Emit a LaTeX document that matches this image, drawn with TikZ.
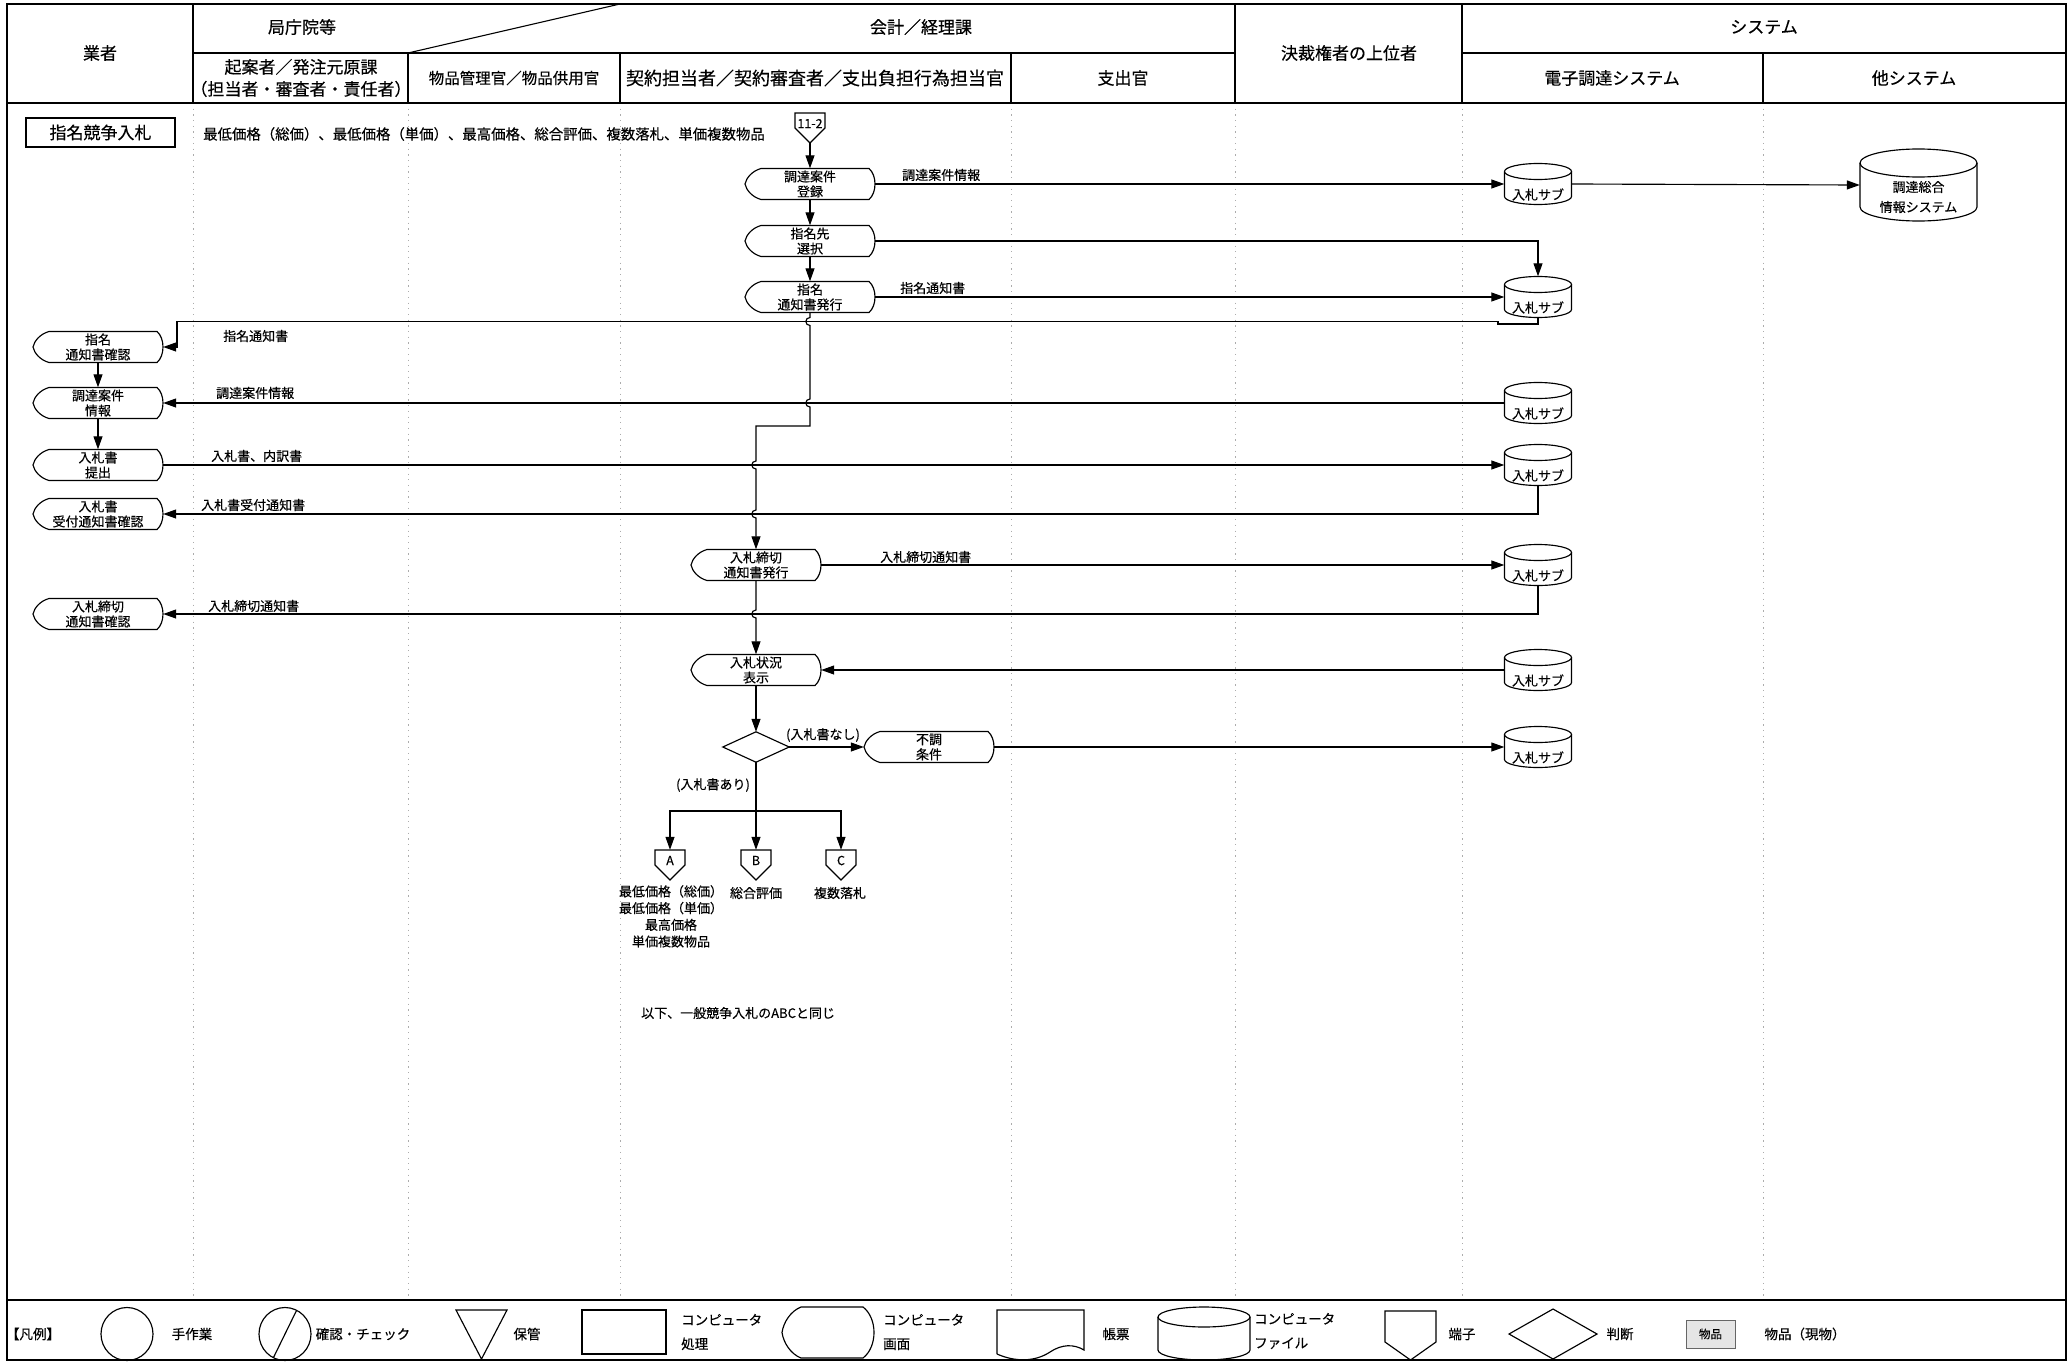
\documentclass[tikz,border=0pt]{standalone}
\usepackage{fontspec}
\setmainfont{Noto Sans CJK JP}[FakeBold=0.35]
\usetikzlibrary{arrows.meta}
\newcommand\fs[2]{\fontsize{#1}{#2}\selectfont}
% hop of a vertical line over a horizontal one
\newcommand\hop[2]{-- (#1,#2-4) .. controls (#1-5.5,#2-4) and (#1-5.5,#2+4) .. (#1,#2+4)}
% computer screen outline: cx cy w h leftdepth rightdepth
\newcommand\scrshape[6]{%
 \pgfmathsetmacro\sxl{#1-#3/2}\pgfmathsetmacro\sxr{#1+#3/2}%
 \pgfmathsetmacro\syt{#2-#4/2}\pgfmathsetmacro\syb{#2+#4/2}%
 \draw[shp] (\sxl+#5,\syt) -- (\sxr-#6,\syt) .. controls (\sxr+#6/3,\syt+#4*0.22) and (\sxr+#6/3,\syb-#4*0.22) .. (\sxr-#6,\syb) -- (\sxl+#5,\syb) .. controls (\sxl+#5*0.45,\syb-#4*0.08) and (\sxl+#5*0.08,#2+#4*0.2) .. (\sxl,#2) .. controls (\sxl+#5*0.08,#2-#4*0.2) and (\sxl+#5*0.45,\syt+#4*0.08) .. cycle;}
% cylinder outline: cx cy w h ry
\newcommand\cylshape[5]{%
 \pgfmathsetmacro\cxl{#1-#3/2}\pgfmathsetmacro\cxr{#1+#3/2}\pgfmathsetmacro\crx{#3/2}%
 \pgfmathsetmacro\cyt{#2-#4/2+#5}\pgfmathsetmacro\cyb{#2+#4/2-#5}%
 \draw[shp] (#1,\cyt) ellipse [x radius=\crx*1pt, y radius=#5*1pt];
 \draw[shp] (\cxl,\cyt) -- (\cxl,\cyb) .. controls (\cxl,\cyb+0.5523*#5) and (#1-0.5523*\crx,\cyb+#5) .. (#1,\cyb+#5) .. controls (#1+0.5523*\crx,\cyb+#5) and (\cxr,\cyb+0.5523*#5) .. (\cxr,\cyb) -- (\cxr,\cyt);}
% terminal outline: cx yt w side total
\newcommand\termshape[5]{%
 \draw[shp] (#1-#3/2,#2) -- (#1+#3/2,#2) -- (#1+#3/2,#2+#4) -- (#1,#2+#5) -- (#1-#3/2,#2+#4) -- cycle;}
\newcommand\scr[4]{\node[scrn] (#1) at (#2,#3) {#4};\scrshape{#2}{#3}{130}{31}{16}{6}}
\newcommand\cyl[3]{\node[cyln] (#1) at (#2,#3) {};\cylshape{#2}{#3}{67}{41}{8}\node[font=\fs{13}{15},inner sep=0pt] (#1t) at (#2,#3+10.5) {入札サブ};}
\newcommand\term[4]{\node[termn] (#1) at (#2,#3+15) {};\termshape{#2}{#3}{30}{15}{30}\node[font=\fs{12.5}{14},inner sep=0pt] (#1t) at (#2,#3+10.5) {#4};}
\begin{document}
\begin{tikzpicture}[x=1pt,y=-1pt,
 frm/.style={line width=1.5pt},
 lane/.style={draw=gray!65,line width=0.9pt,dash pattern=on 1.2pt off 4.5pt},
 shp/.style={line width=1.15pt},
 ln/.style={line width=1.15pt},
 arr/.style={line width=1.15pt,-{Triangle[length=13pt,width=9pt]}},
 hd/.style={font=\fs{17}{22},align=center,inner sep=0pt},
 lbl/.style={font=\fs{13}{15},anchor=west,inner sep=0pt},
 txt/.style={font=\fs{13}{16.7},align=center,inner sep=0pt},
 scrn/.style={minimum width=130pt,minimum height=31pt,inner sep=0pt,font=\fs{13}{15},align=center},
 cyln/.style={minimum width=67pt,minimum height=41pt,inner sep=0pt},
 termn/.style={minimum width=30pt,minimum height=30pt,inner sep=0pt},
 lgt/.style={font=\fs{13.5}{24},align=left,inner sep=0pt},
]
\useasboundingbox (0,0) rectangle (2069,1362);
% swimlanes
\foreach \x in {193,408,620,1011,1235,1462,1763} \draw[lane] (\x,103) -- (\x,1300);
% frame and header
\draw[frm] (7,4) rectangle (2066,1360);
\draw[frm] (7,103) -- (2066,103);
\draw[frm] (7,1300) -- (2066,1300);
\draw[frm] (193,53) -- (1235,53);
\draw[frm] (1462,53) -- (2066,53);
\draw[frm] (193,4) -- (193,103);
\draw[frm] (408,53) -- (408,103);
\draw[frm] (620,53) -- (620,103);
\draw[frm] (1011,53) -- (1011,103);
\draw[frm] (1235,4) -- (1235,103);
\draw[frm] (1462,4) -- (1462,103);
\draw[frm] (1763,53) -- (1763,103);
\draw[line width=1.1pt] (408,53) -- (620,4);
\node[hd] (h1) at (100,53) {業者};
\node[hd] (h2) at (302,27) {局庁院等};
\node[hd] (h3) at (921,27) {会計／経理課};
\node[hd] (h4) at (301,78) {起案者／発注元原課\\（担当者・審査者・責任者）};
\node[hd,font=\fs{15.5}{20}] (h5) at (514,78) {物品管理官／物品供用官};
\node[hd,font=\fs{18}{22}] (h6) at (815,78) {契約担当者／契約審査者／支出負担行為担当官};
\node[hd] (h7) at (1123,78) {支出官};
\node[hd] (h8) at (1349,53) {決裁権者の上位者};
\node[hd] (h9) at (1764,27) {システム};
\node[hd] (h10) at (1612,78) {電子調達システム};
\node[hd] (h11) at (1914,78) {他システム};
% title box and scope text
\node[draw,line width=1.1pt,minimum width=149pt,minimum height=29pt,inner sep=0pt,font=\fs{17}{20}] (title) at (100.5,132.5) {指名競争入札};
\node[lbl,font=\fs{14.4}{16}] (scope) at (203,134) {最低価格（総価）、最低価格（単価）、最高価格、総合評価、複数落札、単価複数物品};
% flow nodes
\term{t112}{810}{113}{11-2}
\scr{reg}{810}{184}{調達案件\\登録}
\scr{sel}{810}{241}{指名先\\選択}
\scr{iss}{810}{297}{指名\\通知書発行}
\scr{chk1}{98}{347}{指名\\通知書確認}
\scr{info}{98}{403}{調達案件\\情報}
\scr{bid}{98}{465}{入札書\\提出}
\scr{rcpt}{98}{514}{入札書\\受付通知書確認}
\scr{clsI}{756}{565}{入札締切\\通知書発行}
\scr{clsC}{98}{614}{入札締切\\通知書確認}
\scr{stat}{756}{670}{入札状況\\表示}
\scr{fail}{929}{747}{不調\\条件}
\node[minimum width=66pt,minimum height=30pt,inner sep=0pt] (dec) at (756,747) {};
\draw[shp] (dec.north) -- (dec.east) -- (dec.south) -- (dec.west) -- cycle;
\term{A}{670}{850}{A}
\term{B}{756}{850}{B}
\term{C}{841}{850}{C}
\cyl{sub1}{1538}{184}
\cyl{sub2}{1538}{297}
\cyl{sub3}{1538}{403}
\cyl{sub4}{1538}{465}
\cyl{sub5}{1538}{565}
\cyl{sub6}{1538}{670}
\cyl{sub7}{1538}{747}
\node[minimum width=117pt,minimum height=72pt,inner sep=0pt] (sogo) at (1918.5,185) {};
\cylshape{1918.5}{185}{117}{72}{14}
\node[txt,font=\fs{13}{20}] (sogot) at (1918.5,197) {調達総合\\情報システム};
% connectors
\draw[arr] (t112.south) -- (reg.north);
\draw[arr] (reg.south) -- (sel.north);
\draw[arr] (sel.south) -- (iss.north);
\draw[arr] (reg.east) -- (sub1.west);
\draw[arr] (sub1.east) -- (sogo.west);
\draw[arr] (sel.east) -| (sub2.north);
\draw[arr] (iss.east) -- (sub2.west);
\draw[arr] (sub2.south) |- (1498,324) |- (177,321.5) |- (chk1.east);
\draw[arr] (chk1.south) -- (info.north);
\draw[arr] (info.south) -- (bid.north);
\draw[arr] (sub3.west) -- (info.east);
\draw[arr] (bid.east) -- (sub4.west);
\draw[arr] (sub4.south) |- (rcpt.east);
\draw[arr] (iss.south) \hop{810}{321.5} \hop{810}{403} -- (810,426) -- (756,426) \hop{756}{465} \hop{756}{514} -- (clsI.north);
\draw[arr] (clsI.east) -- (sub5.west);
\draw[arr] (sub5.south) |- (clsC.east);
\draw[arr] (clsI.south) \hop{756}{614} -- (stat.north);
\draw[arr] (sub6.west) -- (stat.east);
\draw[arr] (stat.south) -- (dec.north);
\draw[arr] (dec.east) -- (fail.west);
\draw[arr] (fail.east) -- (sub7.west);
\coordinate (split) at (756,811);
\draw[ln] (dec.south) -- (split);
\draw[arr] (split) -| (A.north);
\draw[arr] (split) -- (B.north);
\draw[arr] (split) -| (C.north);
% connector labels
\node[lbl] (l1) at (902,175) {調達案件情報};
\node[lbl] (l2) at (900,288) {指名通知書};
\node[lbl] (l3) at (223,336) {指名通知書};
\node[lbl] (l4) at (216,393) {調達案件情報};
\node[lbl] (l5) at (211,456) {入札書、内訳書};
\node[lbl] (l6) at (201,505) {入札書受付通知書};
\node[lbl] (l7) at (880,557) {入札締切通知書};
\node[lbl] (l8) at (208,606) {入札締切通知書};
\node[txt] (l9) at (823,735) {(入札書なし)};
\node[txt] (l10) at (713,785) {(入札書あり)};
\node[txt,anchor=north] (la) at (671,885) {最低価格（総価）\\最低価格（単価）\\最高価格\\単価複数物品};
\node[txt] (lb) at (756,893) {総合評価};
\node[txt] (lc) at (840,893) {複数落札};
\node[lbl] (note) at (641,1013) {以下、一般競争入札のABCと同じ};
% legend
\node[lgt] (g0) at (33,1334) {【凡例】};
\draw[shp] (127,1334) ellipse [x radius=26pt, y radius=26.5pt];
\node[lgt] (g1) at (192,1334) {手作業};
\draw[shp] (285,1334) ellipse [x radius=26pt, y radius=26.5pt];
\draw[shp] (273.5,1357.5) -- (296.5,1310.5);
\node[lgt] (g2) at (363,1334) {確認・チェック};
\draw[shp] (456,1310) -- (507,1310) -- (481.5,1359) -- cycle;
\node[lgt] (g3) at (527,1334) {保管};
\draw[shp] (582,1310) rectangle (666,1354);
\node[lgt,anchor=west] (g4) at (681,1332) {コンピュータ\\処理};
\scrshape{828}{1332.5}{92}{51}{19}{11}
\node[lgt,anchor=west] (g5) at (883,1332) {コンピュータ\\画面};
\draw[shp] (997,1354) -- (997,1310) -- (1084,1310) -- (1084,1350) .. controls (1074,1344) and (1062,1344) .. (1050,1352) .. controls (1035,1362) and (1015,1362) .. (997,1354);
\node[lgt] (g6) at (1116,1334) {帳票};
\cylshape{1204}{1333.5}{92}{53}{10}
\node[lgt,anchor=west] (g7) at (1254,1331) {コンピュータ\\ファイル};
\draw[shp] (1385,1311) -- (1436,1311) -- (1436,1342) -- (1410.5,1360) -- (1385,1342) -- cycle;
\node[lgt] (g8) at (1462,1334) {端子};
\draw[shp] (1553,1309) -- (1597,1334) -- (1553,1359) -- (1509,1334) -- cycle;
\node[lgt] (g9) at (1620,1334) {判断};
\node[draw=gray!80!black,line width=0.9pt,fill=gray!20,minimum width=49pt,minimum height=28pt,inner sep=0pt,font=\fs{11.5}{13}] (g10) at (1710.5,1334) {物品};
\node[lgt] (g11) at (1805,1334) {物品（現物）};
\end{tikzpicture}
\end{document}
